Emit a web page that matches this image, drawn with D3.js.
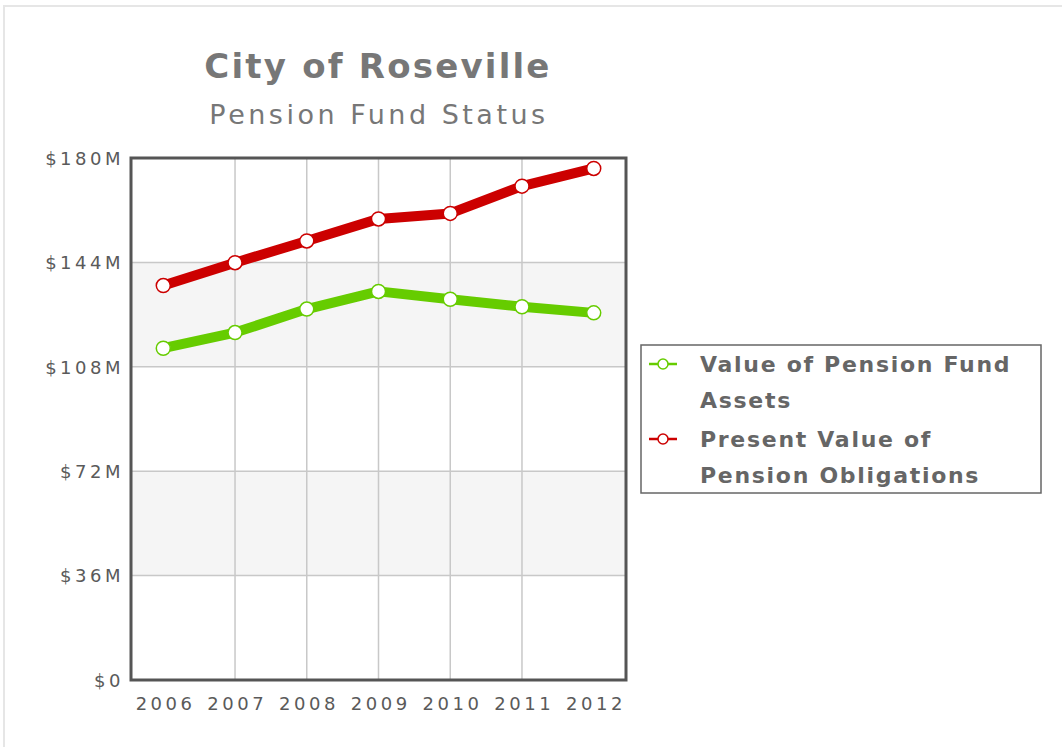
<!DOCTYPE html>
<html>
<head>
<meta charset="utf-8">
<script src="https://cdn.jsdelivr.net/npm/d3@7"></script>
<style>
  body { margin: 0; background: #fff; }
  svg { display: block; }
</style>
</head>
<body>
<div id="chart"></div>
<script>
// data (millions of $)
const years = ["2006", "2007", "2008", "2009", "2010", "2011", "2012"];
const assets = [114.4, 119.8, 127.9, 134.0, 131.3, 128.7, 126.6];
const obligations = [136.0, 143.9, 151.4, 159.0, 160.9, 170.3, 176.4];
const yTicks = [0, 36, 72, 108, 144, 180];
const seriesNames = ["Value of Pension Fund Assets", "Present Value of Pension Obligations"];
const seriesColors = ["#66cc00", "#cc0000"];

const W = 1062, H = 747;
const m = {top: 158, right: 436, bottom: 67, left: 131}; // plot box

const width = W - m.left - m.right,
    height = H - m.top - m.bottom;

const svg = d3.select("#chart").append("svg")
    .attr("width", W).attr("height", H);

// faint outer frame
svg.append("path")
    .attr("d", `M4,${H} V6 H${W}`)
    .attr("fill", "none").attr("stroke", "#e6e6e6").attr("stroke-width", 2);

// titles
svg.append("text").attr("x", 378).attr("y", 78)
    .attr("text-anchor", "middle")
    .style("font", "bold 34px 'DejaVu Sans'").style("letter-spacing", "2.2px")
    .attr("fill", "#777")
    .text("City of Roseville");
svg.append("text").attr("x", 379).attr("y", 124)
    .attr("text-anchor", "middle")
    .style("font", "27px 'DejaVu Sans'").style("letter-spacing", "3.5px")
    .attr("fill", "#777")
    .text("Pension Fund Status");

const g = svg.append("g").attr("transform", `translate(${m.left},${m.top})`);

const x = d3.scalePoint().domain(years).range([0, width]).padding(0.45);
const y = d3.scaleLinear().domain([0, 180]).range([height, 0]);

// alternating bands
g.selectAll("rect.band")
  .data(d3.pairs(yTicks).filter((d, i) => i % 2 == 1))
  .join("rect")
    .attr("x", 0).attr("width", width)
    .attr("y", d => y(d[1])).attr("height", d => y(d[0]) - y(d[1]))
    .attr("fill", "#f5f5f5");

// horizontal grid
g.selectAll("line.hg")
  .data(yTicks.slice(1, -1))
  .join("line")
    .attr("x1", 0).attr("x2", width)
    .attr("y1", d => y(d)).attr("y2", d => y(d))
    .attr("stroke", "#c8c8c8").attr("stroke-width", 1.5);

// vertical grid (inner years only)
g.selectAll("line.vg")
  .data(years.slice(1, -1))
  .join("line")
    .attr("x1", d => x(d)).attr("x2", d => x(d))
    .attr("y1", 0).attr("y2", height)
    .attr("stroke", "#c8c8c8").attr("stroke-width", 1.5);

// axes labels
const tickFont = "18px 'DejaVu Sans'";
const yAxis = g.append("g")
    .call(d3.axisLeft(y).tickValues(yTicks).tickSize(0).tickPadding(7)
        .tickFormat(d => d == 0 ? "$0" : "$" + d + "M"));
yAxis.select(".domain").remove();
yAxis.selectAll("text").style("font", tickFont).style("letter-spacing", "3.5px")
    .attr("fill", "#5a5a5a").attr("dy", "0.35em");

const xAxis = g.append("g").attr("transform", `translate(0,${height})`)
    .call(d3.axisBottom(x).tickSize(0).tickPadding(17));
xAxis.select(".domain").remove();
xAxis.selectAll("text").style("font", tickFont).style("letter-spacing", "3.5px")
    .attr("fill", "#5a5a5a").attr("dx", "1.75");

// plot border
g.append("rect").attr("width", width).attr("height", height)
    .attr("fill", "none").attr("stroke", "#555").attr("stroke-width", 3);

// lines + markers
const line = d3.line().x((d, i) => x(years[i])).y(d => y(d));
[assets, obligations].forEach((vals, k) => {
  g.append("path").datum(vals)
    .attr("d", line)
    .attr("fill", "none").attr("stroke", seriesColors[k])
    .attr("stroke-width", 10).attr("stroke-linejoin", "round");
  g.selectAll(null).data(vals).join("circle")
    .attr("cx", (d, i) => x(years[i])).attr("cy", d => y(d))
    .attr("r", 7)
    .attr("fill", "#fff").attr("stroke", seriesColors[k]).attr("stroke-width", 1.5);
});

// legend
const lg = svg.append("g").attr("transform", "translate(641,345)");
lg.append("rect").attr("width", 400).attr("height", 148)
    .attr("fill", "#fff").attr("stroke", "#666").attr("stroke-width", 1.5);
const legendLines = [["Value of Pension Fund", "Assets"], ["Present Value of", "Pension Obligations"]];
legendLines.forEach((rows, k) => {
  const cy = 19 + k * 75;
  lg.append("line").attr("x1", 8).attr("x2", 36).attr("y1", cy).attr("y2", cy)
    .attr("stroke", seriesColors[k]).attr("stroke-width", 2.5);
  lg.append("circle").attr("cx", 22).attr("cy", cy).attr("r", 5)
    .attr("fill", "#fff").attr("stroke", seriesColors[k]).attr("stroke-width", 1.5);
  rows.forEach((t, j) => {
    lg.append("text").attr("x", 59).attr("y", cy + 8 + j * 36)
      .style("font", "bold 22px 'DejaVu Sans'").style("letter-spacing", "1.7px")
      .attr("fill", "#666")
      .text(t);
  });
});
</script>
</body>
</html>
